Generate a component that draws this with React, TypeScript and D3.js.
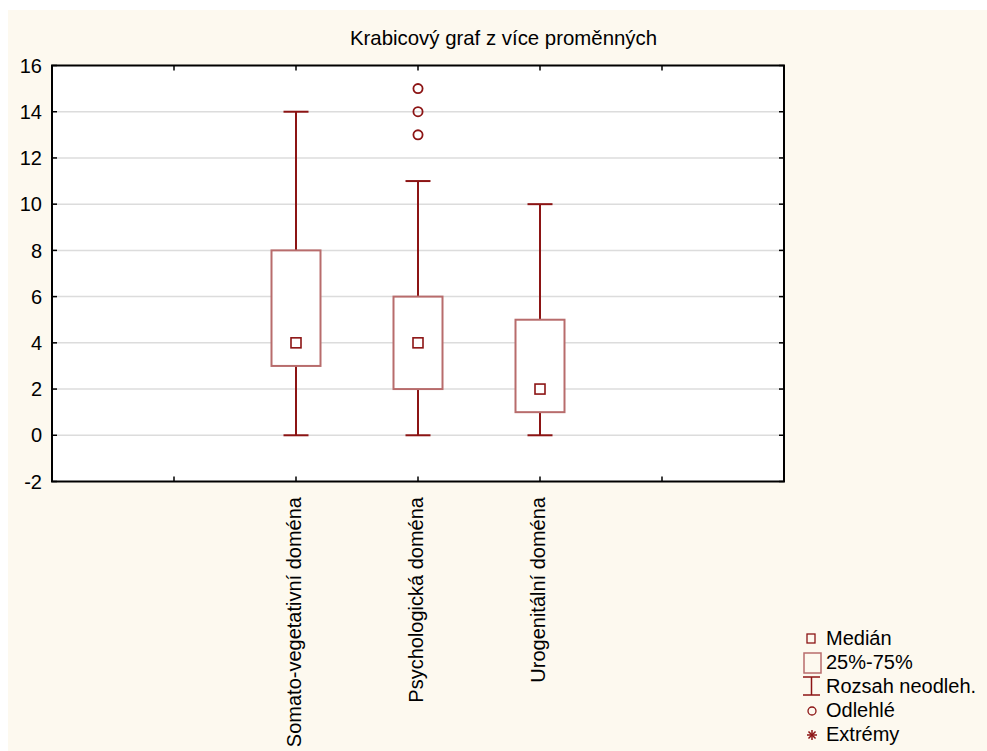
import React from "react";
import * as d3 from "d3";

const categories = ["Somato-vegetativní doména", "Psychologická doména", "Urogenitální doména"];
const medians = [4, 4, 2];
const q1 = [3, 2, 1];
const q3 = [8, 6, 5];
const whiskerLow = [0, 0, 0];
const whiskerHigh = [14, 11, 10];
const outliers: number[][] = [[], [13, 14, 15], []];
const yTicks = [-2, 0, 2, 4, 6, 8, 10, 12, 14, 16];
const xTickSlots = [-2, -1, 0, 1, 2, 3, 4];
const title = "Krabicový graf z více proměnných";
const legendLabels = ["Medián", "25%-75%", "Rozsah neodleh.", "Odlehlé", "Extrémy"];

const W = 987;
const H = 751;
const plot = { left: 52, right: 784, top: 65.5, bottom: 481.5 };
const WHISK = "#8c1414";
const BOXC = "#b86c6c";
const BG = "#fdf9ef";
const FONT = "'Liberation Sans', Arial, sans-serif";

export default function App() {
  const x = d3.scaleLinear().domain([-2, 4]).range([plot.left, plot.right]);
  const y = d3.scaleLinear().domain([-2, 16]).range([plot.bottom, plot.top]);
  const boxW = 49;
  const capW = 25;
  const medS = 10;

  const star = (cx: number, cy: number, r: number) => {
    const angles = [0, 45, 90, 135];
    return angles.map((a, i) => {
      const rad = (a * Math.PI) / 180;
      const dx = Math.cos(rad) * r;
      const dy = Math.sin(rad) * r;
      return <line key={i} x1={cx - dx} y1={cy - dy} x2={cx + dx} y2={cy + dy} stroke={WHISK} strokeWidth={1.5} />;
    });
  };

  const legendY = [645, 669, 693, 717, 741];

  return (
    <svg width={W} height={H} style={{ position: "absolute", left: 0, top: 0, display: "block" }} fontFamily={FONT}>
      <rect x={0} y={0} width={W} height={H} fill="#ffffff" />
      <rect x={8} y={10} width={W - 8} height={H - 10} fill={BG} />
      <text x={503.5} y={45} textAnchor="middle" fontSize={20.4} fill="#000">{title}</text>

      <rect x={plot.left} y={plot.top} width={plot.right - plot.left} height={plot.bottom - plot.top} fill="#ffffff" />
      {yTicks.filter(t => t > -2 && t < 16).map(t => (
        <line key={"g" + t} x1={plot.left} x2={plot.right} y1={y(t)} y2={y(t)} stroke="#dcdcdc" strokeWidth={1.5} />
      ))}

      {categories.map((c, i) => {
        const cx = x(i);
        return (
          <g key={c}>
            <line x1={cx} x2={cx} y1={y(q3[i])} y2={y(whiskerHigh[i])} stroke={WHISK} strokeWidth={2} />
            <line x1={cx} x2={cx} y1={y(q1[i])} y2={y(whiskerLow[i])} stroke={WHISK} strokeWidth={2} />
            <line x1={cx - capW / 2} x2={cx + capW / 2} y1={y(whiskerHigh[i])} y2={y(whiskerHigh[i])} stroke={WHISK} strokeWidth={2} />
            <line x1={cx - capW / 2} x2={cx + capW / 2} y1={y(whiskerLow[i])} y2={y(whiskerLow[i])} stroke={WHISK} strokeWidth={2} />
            <rect x={cx - boxW / 2} y={y(q3[i])} width={boxW} height={y(q1[i]) - y(q3[i])} fill="#ffffff" stroke={BOXC} strokeWidth={2} />
            <rect x={cx - medS / 2} y={y(medians[i]) - medS / 2} width={medS} height={medS} fill="#ffffff" stroke={WHISK} strokeWidth={1.6} />
            {outliers[i].map(o => (
              <circle key={o} cx={cx} cy={y(o)} r={4.6} fill="none" stroke={WHISK} strokeWidth={1.8} />
            ))}
          </g>
        );
      })}

      <rect x={plot.left} y={plot.top} width={plot.right - plot.left} height={plot.bottom - plot.top} fill="none" stroke="#000" strokeWidth={2} />
      {yTicks.map(t => (
        <g key={"yt" + t}>
          <line x1={plot.left} x2={plot.left + 5} y1={y(t)} y2={y(t)} stroke="#000" strokeWidth={1.5} />
          <line x1={plot.right - 5} x2={plot.right} y1={y(t)} y2={y(t)} stroke="#000" strokeWidth={1.5} />
          <text x={42} y={y(t)} dy="0.36em" textAnchor="end" fontSize={20} fill="#000">{t}</text>
        </g>
      ))}
      {xTickSlots.map(s => (
        <g key={"xt" + s}>
          <line x1={x(s)} x2={x(s)} y1={plot.top} y2={plot.top + 5} stroke="#000" strokeWidth={1.5} />
          <line x1={x(s)} x2={x(s)} y1={plot.bottom - 5} y2={plot.bottom} stroke="#000" strokeWidth={1.5} />
        </g>
      ))}
      {categories.map((c, i) => (
        <text key={"cl" + i} transform={`translate(${x(i)},497) rotate(-90)`} dy="0.25em" textAnchor="end" fontSize={20} fill="#000">{c}</text>
      ))}

      {/* legend */}
      <rect x={807} y={634} width={8} height={9} fill="none" stroke={WHISK} strokeWidth={1.3} />
      <rect x={804} y={653} width={17} height={20} fill="none" stroke={BOXC} strokeWidth={1.5} />
      <line x1={803} x2={820} y1={677} y2={677} stroke={WHISK} strokeWidth={1.5} />
      <line x1={803} x2={820} y1={695} y2={695} stroke={WHISK} strokeWidth={1.5} />
      <line x1={811.5} x2={811.5} y1={677} y2={695} stroke={WHISK} strokeWidth={1.5} />
      <circle cx={812} cy={711} r={4} fill="none" stroke={WHISK} strokeWidth={1.3} />
      {star(812, 735, 5)}
      {legendLabels.map((l, i) => (
        <text key={l} x={826} y={legendY[i]} fontSize={20} fill="#000">{l}</text>
      ))}
    </svg>
  );
}
